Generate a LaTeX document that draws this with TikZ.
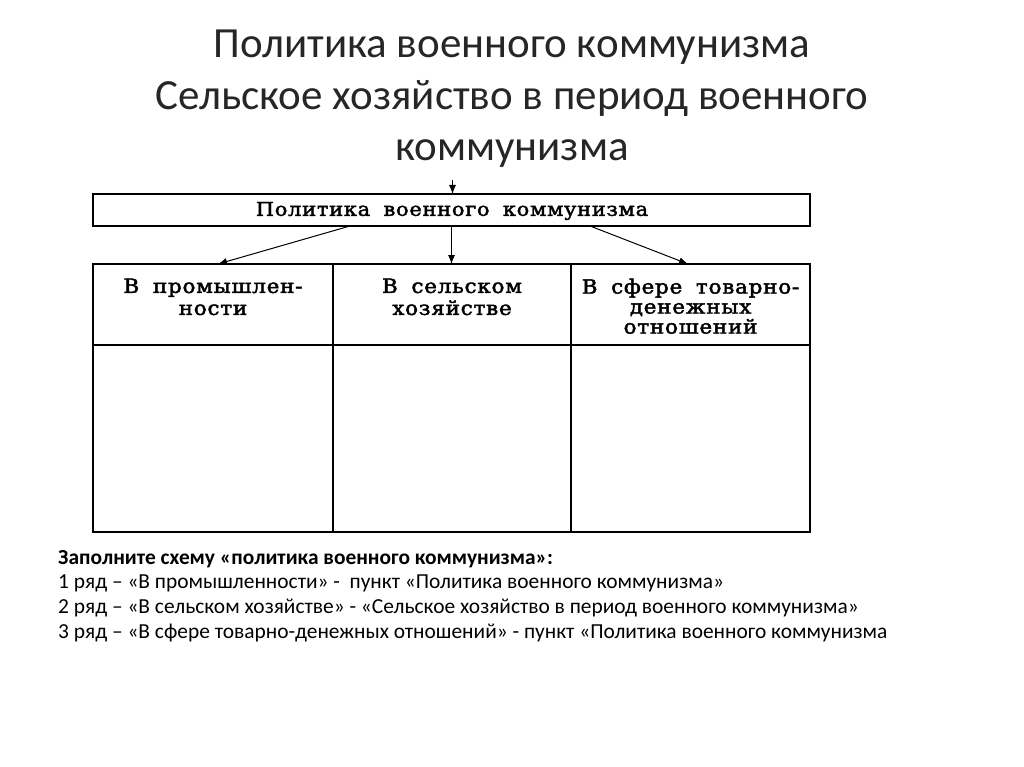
\documentclass[tikz,border=0pt]{standalone}
\usepackage{fontspec}
\setmainfont{Carlito}
\newfontfamily\bookfont[FakeStretch=1.1,LetterSpace=4,FakeBold=2.2,WordSpace=1.8]{DejaVu Serif}
\usetikzlibrary{arrows.meta}
\begin{document}
\begin{tikzpicture}[x=1pt,y=-1pt,
  cell/.style={draw=black,line width=1.1pt,rectangle,inner sep=0pt,outer sep=0pt},
  celltxt/.style={font=\bookfont\fontsize{19.5}{22}\selectfont,align=center,anchor=north,inner sep=0pt},
  arr/.style={line width=1pt,-{Latex[length=9pt,width=7pt]}}]
\useasboundingbox[fill=white] (0,0) rectangle (1024,767);
% title
\node[font=\fontsize{43}{51.5}\selectfont,align=center,text=black!85] (title) at (512,99)
  {Политика военного коммунизма\\Сельское хозяйство в период военного\\коммунизма};
% top box
\node[cell,minimum width=717pt,minimum height=32pt] (top) at (451.5,210) {};
\node[font=\bookfont\fontsize{19}{22}\selectfont,inner sep=0pt] (toptxt) at (452,211) {Политика военного коммунизма};
% header cells
\node[cell,minimum width=240pt,minimum height=81pt] (h1) at (213,304.5) {};
\node[cell,minimum width=238pt,minimum height=81pt] (h2) at (452,304.5) {};
\node[cell,minimum width=239pt,minimum height=81pt] (h3) at (690.5,304.5) {};
\node[celltxt] (t1) at (213,278.5) {В промышлен-\\ности};
\node[celltxt] (t2) at (452,278.5) {В сельском\\хозяйстве};
\node[celltxt,font=\bookfont\fontsize{19.5}{20}\selectfont] (t3) at (690.5,278.5) {В сфере товарно-\\денежных\\отношений};
% body cells
\node[cell,minimum width=240pt,minimum height=187pt] (b1) at (213,438.5) {};
\node[cell,minimum width=238pt,minimum height=187pt] (b2) at (452,438.5) {};
\node[cell,minimum width=239pt,minimum height=187pt] (b3) at (690.5,438.5) {};
% arrows
\coordinate (in) at (452.5,180);
\draw[arr] (in) -- (in |- top.north);
\draw[arr] ([xshift=-101.5pt]top.south) -- ([xshift=5pt]h1.north);
\draw[arr] (top.south) -- (top.south |- h2.north);
\draw[arr] ([xshift=138.5pt]top.south) -- ([xshift=-2.5pt]h3.north);
% instructions
\node[anchor=north west,align=left,inner sep=0pt,font=\fontsize{21.4}{24.6}\selectfont] (instr) at (58,550)
  {\textbf{Заполните схему «политика военного коммунизма»:}\\
   1 ряд – «В промышленности» -\ \ пункт «Политика военного коммунизма»\\
   2 ряд – «В сельском хозяйстве» - «Сельское хозяйство в период военного коммунизма»\\
   3 ряд – «В сфере товарно-денежных отношений» - пункт «Политика военного коммунизма};
\end{tikzpicture}
\end{document}
